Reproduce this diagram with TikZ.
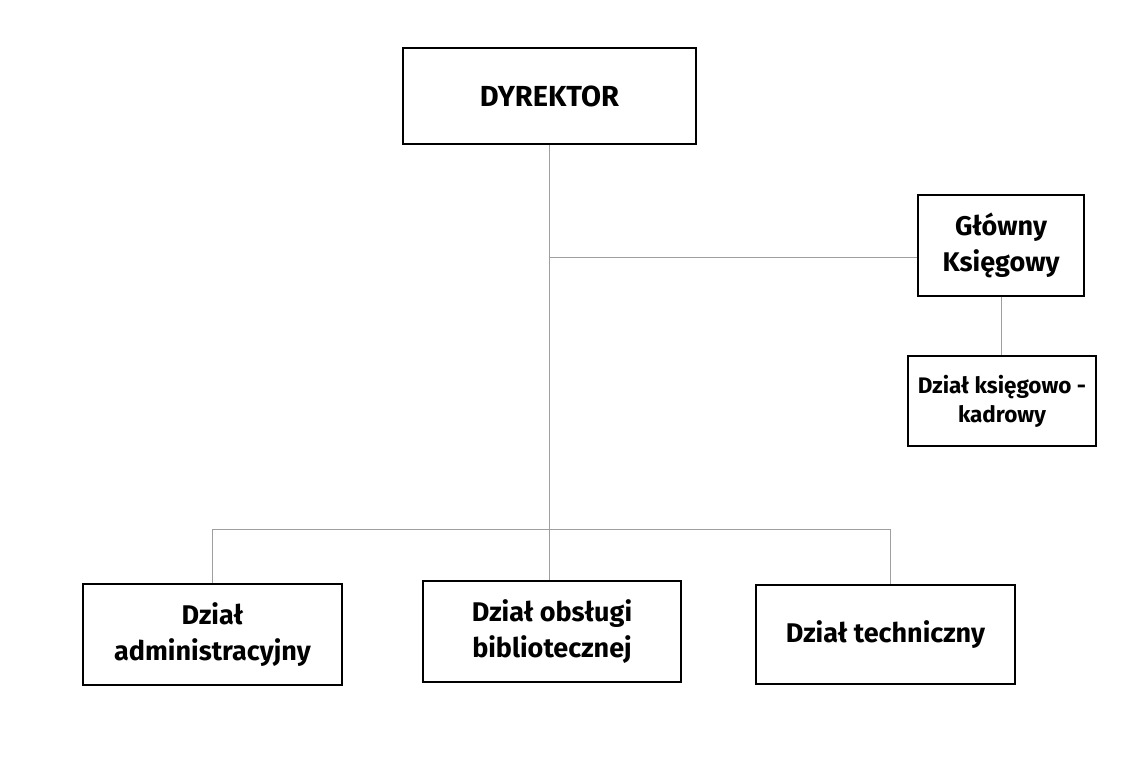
\documentclass[tikz,border=0pt]{standalone}
\usepackage{fontspec}
\setmainfont{Fira Sans}
\usetikzlibrary{calc}
\tikzset{unit/.style={draw, line width=1.3pt, align=center, inner sep=0pt, font=\bfseries\fontsize{27}{36}\selectfont}}
\tikzset{link/.style={draw=gray!75, line width=1pt}}

\begin{document}
\begin{tikzpicture}[x=1pt, y=-1pt]
            \useasboundingbox (0,0) rectangle (1134,757);
            \node[unit, minimum width=293pt, minimum height=96pt, font=\bfseries\fontsize{29}{32}\selectfont] (dyrektor) at (549.5, 96) {DYREKTOR};
            \node[unit, minimum width=166pt, minimum height=101pt, font=\bfseries\fontsize{27}{36}\selectfont] (glowny) at (1001, 245.5) {Główny\\Księgowy};
            \node[unit, minimum width=188pt, minimum height=90pt, font=\bfseries\fontsize{22.5}{29}\selectfont] (kadry) at (1002, 401) {Dział księgowo -\\kadrowy};
            \node[unit, minimum width=259pt, minimum height=101pt] (admin) at (212.5, 634.5) {Dział\\administracyjny};
            \node[unit, minimum width=258pt, minimum height=101pt] (obsluga) at (552, 631.5) {Dział obsługi\\bibliotecznej};
            \node[unit, minimum width=259pt, minimum height=99pt] (techn) at (885.5, 634.5) {Dział techniczny};
            \coordinate (branch) at (549, 257);
            \coordinate (busR) at (890, 529);
            \draw[link] (dyrektor.south -| branch) -- (branch |- obsluga.north);
            \draw[link] (branch) -- (branch -| glowny.west);
            \draw[link] (glowny.south) -- (glowny.south |- kadry.north);
            \draw[link] (admin.north) |- (busR) -- (busR |- techn.north);
        \end{tikzpicture}
\end{document}
